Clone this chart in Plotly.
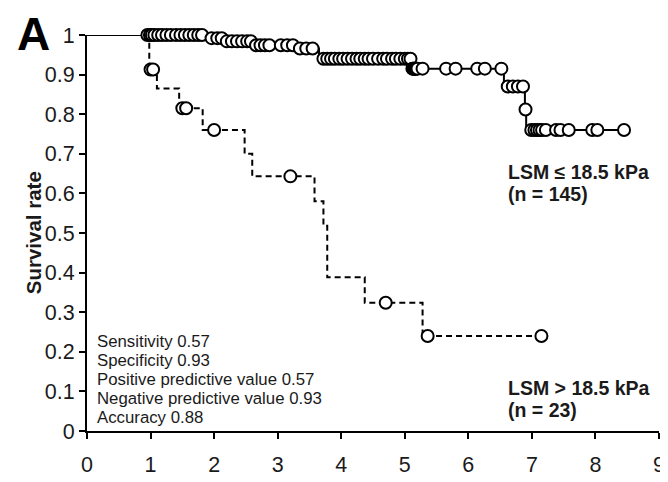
import plotly.graph_objects as go

# ---- data: LSM <= 18.5 kPa (n = 145) ----
low_event_times = [0, 1.88, 2.15, 2.62, 3.28, 3.65, 5.10, 6.56, 6.89, 6.91]
low_levels      = [1.0, 0.992, 0.984, 0.974, 0.966, 0.940, 0.915, 0.870, 0.812, 0.760]
low_censor_times = [0.95, 0.99, 1.02, 1.06, 1.12, 1.18, 1.25, 1.32, 1.4, 1.47, 1.54, 1.61, 1.68, 1.75, 1.81,
                    1.96, 2.05, 2.12,
                    2.2, 2.28, 2.36, 2.44, 2.52, 2.58,
                    2.66, 2.73, 2.8, 2.87, 3.05, 3.15, 3.24,
                    3.35, 3.45, 3.55,
                    3.72, 3.78, 3.84, 3.9, 3.97, 4.03, 4.1, 4.17, 4.24, 4.3, 4.37, 4.43, 4.5, 4.58,
                    4.66, 4.72, 4.8, 4.86, 4.93, 5.0, 5.05, 5.09,
                    5.12, 5.13, 5.14, 5.15, 5.16, 5.17, 5.18, 5.2, 5.28, 5.65, 5.8, 6.14, 6.26, 6.52,
                    6.62, 6.7, 6.78, 6.86,
                    6.9,
                    6.99, 7.04, 7.08, 7.12, 7.16, 7.22, 7.38, 7.45, 7.58, 7.95, 8.03, 8.45]
low_end = 8.45

# ---- data: LSM > 18.5 kPa (n = 23) ----
high_event_times = [0, 0.98, 1.1, 1.45, 1.82, 2.48, 2.6, 3.58, 3.72, 3.78, 4.37, 5.28]
high_levels      = [1.0, 0.913, 0.865, 0.815, 0.760, 0.700, 0.643, 0.580, 0.518, 0.388, 0.324, 0.240]
high_censor_times = [1.0, 1.04, 1.5, 1.56, 2.0, 3.2, 4.7, 5.36, 7.15]
high_end = 7.15

x_ticks = [0, 1, 2, 3, 4, 5, 6, 7, 8, 9]
y_ticks = [0, 0.1, 0.2, 0.3, 0.4, 0.5, 0.6, 0.7, 0.8, 0.9, 1.0]
y_tick_labels = ["0", "0.1", "0.2", "0.3", "0.4", "0.5", "0.6", "0.7", "0.8", "0.9", "1"]

stats_lines = ["Sensitivity 0.57", "Specificity 0.93", "Positive predictive value 0.57",
               "Negative predictive value 0.93", "Accuracy 0.88"]


def step_value(times, levels, t):
    val = levels[0]
    for tt, lv in zip(times, levels):
        if t >= tt:
            val = lv
    return val


FONT = "Liberation Sans, Arial, Helvetica, sans-serif"
TXT = "#1a1a1a"
LW = 2
fig = go.Figure()

# step lines
fig.add_trace(go.Scatter(
    x=high_event_times + [high_end], y=high_levels + [high_levels[-1]],
    mode="lines", line=dict(color="black", width=LW, dash="6px,4px", shape="hv"),
    hoverinfo="skip", showlegend=False, cliponaxis=False))
fig.add_trace(go.Scatter(
    x=low_event_times + [low_end], y=low_levels + [low_levels[-1]],
    mode="lines", line=dict(color="black", width=LW, shape="hv"),
    hoverinfo="skip", showlegend=False, cliponaxis=False))
# solid top segment shared by both curves
fig.add_trace(go.Scatter(
    x=[0, high_event_times[1]], y=[1, 1], mode="lines",
    line=dict(color="black", width=LW), hoverinfo="skip", showlegend=False, cliponaxis=False))

# censor marks
marker = dict(symbol="circle", size=12, color="white", line=dict(color="black", width=2))
fig.add_trace(go.Scatter(
    x=high_censor_times, y=[step_value(high_event_times, high_levels, t) for t in high_censor_times],
    mode="markers", marker=marker, hoverinfo="skip", showlegend=False, cliponaxis=False))
fig.add_trace(go.Scatter(
    x=low_censor_times, y=[step_value(low_event_times, low_levels, t) for t in low_censor_times],
    mode="markers", marker=marker, hoverinfo="skip", showlegend=False, cliponaxis=False))

annotations = []
# panel letter
annotations.append(dict(text="<b>A</b>", x=-0.0927, y=1.003, xref="paper", yref="paper",
                        xanchor="center", yanchor="middle", showarrow=False,
                        font=dict(family=FONT, size=46, color="black")))
# y title
annotations.append(dict(text="<b>Survival rate</b>", x=-0.094, y=0.5, xref="paper", yref="paper",
                        textangle=-90, xanchor="center", yanchor="middle", showarrow=False,
                        font=dict(family=FONT, size=20.5, color=TXT)))
# stats text
for i, line in enumerate(stats_lines):
    annotations.append(dict(text=line, x=0.126, y=0.226 - i * 0.048, xref="x", yref="y",
                            xanchor="left", yanchor="middle", showarrow=False,
                            font=dict(family=FONT, size=16.8, color=TXT)))
# group labels
lab_font = dict(family=FONT, size=19.5, color=TXT)
annotations.append(dict(text="<b>LSM ≤ 18.5 kPa</b>", x=6.6, y=0.653, xref="x", yref="y",
                        xanchor="left", yanchor="middle", showarrow=False, font=lab_font))
annotations.append(dict(text="<b>(n = 145)</b>", x=6.6, y=0.598, xref="x", yref="y",
                        xanchor="left", yanchor="middle", showarrow=False, font=lab_font))
annotations.append(dict(text="<b>LSM > 18.5 kPa</b>", x=6.6, y=0.108, xref="x", yref="y",
                        xanchor="left", yanchor="middle", showarrow=False, font=lab_font))
annotations.append(dict(text="<b>(n = 23)</b>", x=6.6, y=0.053, xref="x", yref="y",
                        xanchor="left", yanchor="middle", showarrow=False, font=lab_font))

axis_common = dict(showgrid=False, zeroline=False, showline=True, linecolor="black", linewidth=LW,
                   ticks="outside", ticklen=6, tickwidth=LW, tickcolor="black",
                   tickfont=dict(family=FONT, size=21.5, color=TXT), fixedrange=True)

fig.update_layout(
    width=668, height=482, autosize=False,
    margin=dict(l=79, r=17, t=27, b=59, pad=0),
    plot_bgcolor="white", paper_bgcolor="white",
    annotations=annotations,
    showlegend=False,
    xaxis=dict(range=[0, 9], tickvals=x_ticks, ticklabelstandoff=7, **axis_common),
    yaxis=dict(range=[0, 1], tickvals=y_ticks, ticktext=y_tick_labels, ticklabelstandoff=0, **axis_common),
)

fig.write_html("out.html")
